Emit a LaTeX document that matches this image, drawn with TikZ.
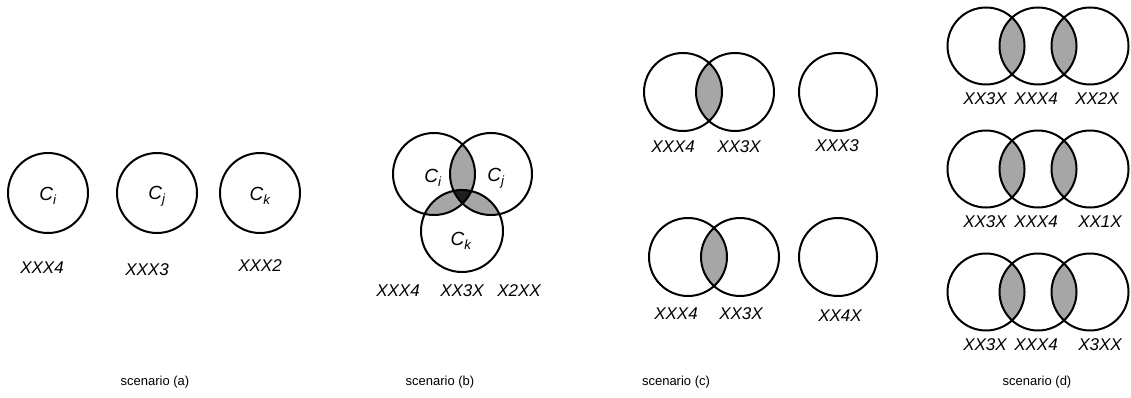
\documentclass[tikz,border=0pt]{standalone}
\usepackage{fontspec}
\setmainfont{Liberation Sans}
\newcommand\lensfill[4][lens]{%
  \begin{scope}\clip #2 circle (#4);\fill[#1] #3 circle (#4);\end{scope}}
\begin{document}
\begin{tikzpicture}[x=1pt,y=-1pt,
  ring/.style={draw=black,line width=2pt},
  lens/.style={fill=black!35},
  core/.style={fill=black!88},
  lab/.style={font=\itshape\fontsize{17}{17}\selectfont,inner sep=0pt},
  cname/.style={font=\itshape\fontsize{19}{19}\selectfont,inner sep=0pt},
  caption/.style={font=\fontsize{13}{14}\selectfont,inner sep=0pt}]
\useasboundingbox (0,0) rectangle (1131,398);

% ---------- scenario (a): three separate clusters
\coordinate (a1) at (48,193);
\coordinate (a2) at (157,193);
\coordinate (a3) at (260,193);
\foreach \c in {a1,a2,a3} \draw[ring] (\c) circle (40pt);
\node[cname] (ai) at (48,196) {C\textsubscript{i}};
\node[cname] (aj) at (157,196) {C\textsubscript{j}};
\node[cname] (ak) at (260,196) {C\textsubscript{k}};
\node[lab] (aL1) at (42,268) {XXX4};
\node[lab] (aL2) at (147,270) {XXX3};
\node[lab] (aL3) at (260,266) {XXX2};
\node[caption] (capa) at (155,382) {scenario (a)};

% ---------- scenario (b): three mutually overlapping clusters
\coordinate (bi) at (434,174);
\coordinate (bj) at (491,174);
\coordinate (bk) at (462,231);
\lensfill{(bi)}{(bj)}{41pt}
\lensfill{(bi)}{(bk)}{41pt}
\lensfill{(bj)}{(bk)}{41pt}
\begin{scope}
  \clip (bi) circle (41pt);
  \clip (bj) circle (41pt);
  \fill[core] (bk) circle (41pt);
\end{scope}
\foreach \c in {bi,bj,bk} \draw[ring] (\c) circle (41pt);
\node[cname] (bci) at (433,178) {C\textsubscript{i}};
\node[cname] (bcj) at (496,178) {C\textsubscript{j}};
\node[cname] (bck) at (461,241) {C\textsubscript{k}};
\node[lab] (bL1) at (398,291) {XXX4};
\node[lab] (bL2) at (462,291) {XX3X};
\node[lab] (bL3) at (519,291) {X2XX};
\node[caption] (capb) at (440,382) {scenario (b)};

% ---------- scenario (c): one overlapping pair plus a single cluster
\coordinate (c1) at (683,92);
\coordinate (c2) at (735,92);
\coordinate (c3) at (838,92);
\coordinate (c4) at (688,257);
\coordinate (c5) at (740,257);
\coordinate (c6) at (838,257);
\lensfill{(c1)}{(c2)}{39pt}
\lensfill{(c4)}{(c5)}{39pt}
\foreach \c in {c1,c2,c3,c4,c5,c6} \draw[ring] (\c) circle (39pt);
\node[lab] (cL1) at (673,147) {XXX4};
\node[lab] (cL2) at (739,147) {XX3X};
\node[lab] (cL3) at (837,146) {XXX3};
\node[lab] (cL4) at (676,314) {XXX4};
\node[lab] (cL5) at (741,314) {XX3X};
\node[lab] (cL6) at (840,316) {XX4X};
\node[caption] (capc) at (676,382) {scenario (c)};

% ---------- scenario (d): chains of three clusters
\foreach \r/\y in {1/46,2/169,3/292}{
  \coordinate (d\r a) at (986,\y);
  \coordinate (d\r b) at (1038,\y);
  \coordinate (d\r c) at (1090,\y);
  \lensfill{(d\r a)}{(d\r b)}{38.5pt}
  \lensfill{(d\r b)}{(d\r c)}{38.5pt}
  \foreach \c in {a,b,c} \draw[ring] (d\r\c) circle (38.5pt);
}
\node[lab] (dL1a) at (985,99) {XX3X};
\node[lab] (dL1b) at (1036,99) {XXX4};
\node[lab] (dL1c) at (1097,99) {XX2X};
\node[lab] (dL2a) at (985,222) {XX3X};
\node[lab] (dL2b) at (1036,222) {XXX4};
\node[lab] (dL2c) at (1100,222) {XX1X};
\node[lab] (dL3a) at (985,345) {XX3X};
\node[lab] (dL3b) at (1036,345) {XXX4};
\node[lab] (dL3c) at (1100,345) {X3XX};
\node[caption] (capd) at (1037,382) {scenario (d)};
\end{tikzpicture}
\end{document}
